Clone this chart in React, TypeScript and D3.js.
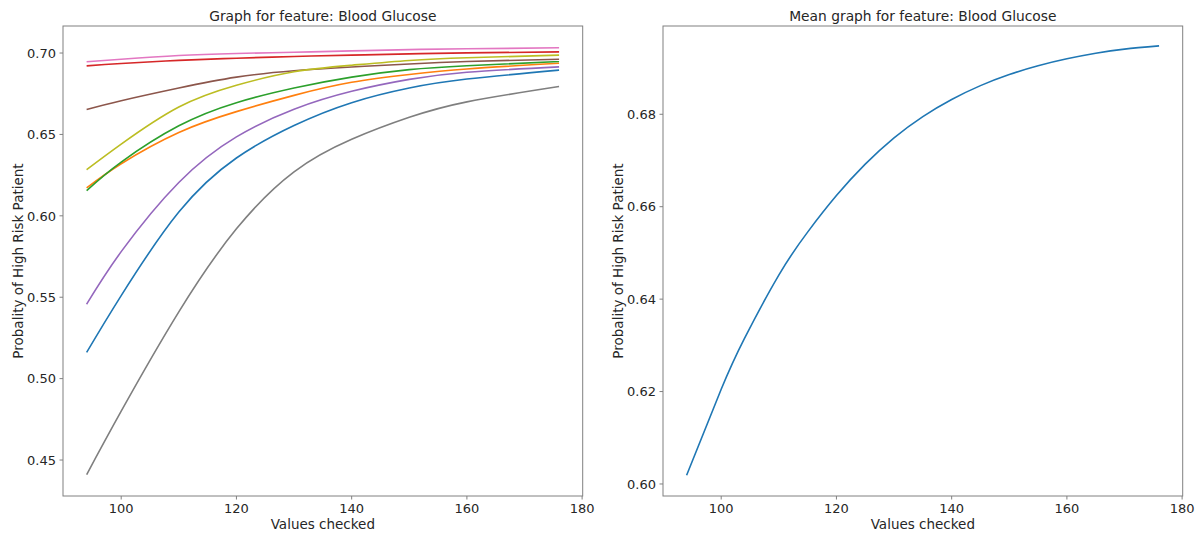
import React from "react";
import * as d3 from "d3";

// ---- data ----
const xChecked = [94, 100, 110, 120, 130, 140, 150, 160, 176];

const seriesBlue = [0.5161, 0.551, 0.6023, 0.6355, 0.6555, 0.6695, 0.6785, 0.684, 0.6895];
const seriesOrange = [0.6171, 0.632, 0.6512, 0.664, 0.674, 0.682, 0.6868, 0.6902, 0.6937];
const seriesGreen = [0.6155, 0.633, 0.6553, 0.6695, 0.6785, 0.6852, 0.6898, 0.6922, 0.6948];
const seriesRed = [0.6921, 0.6936, 0.6955, 0.6968, 0.6979, 0.6987, 0.6995, 0.7001, 0.7007];
const seriesPurple = [0.5457, 0.578, 0.6205, 0.6485, 0.6655, 0.6765, 0.6838, 0.6882, 0.6915];
const seriesBrown = [0.6653, 0.6707, 0.6785, 0.6852, 0.6891, 0.6914, 0.6933, 0.6948, 0.6962];
const seriesPink = [0.6946, 0.6962, 0.6985, 0.6997, 0.7005, 0.7013, 0.7021, 0.7026, 0.7032];
const seriesGray = [0.441, 0.48, 0.541, 0.592, 0.627, 0.647, 0.6605, 0.67, 0.6794];
const seriesOlive = [0.6283, 0.644, 0.6668, 0.6802, 0.6885, 0.6925, 0.6954, 0.6971, 0.6987];

const allSeries = [
  { values: seriesBlue, color: "#1f77b4" },
  { values: seriesOrange, color: "#ff7f0e" },
  { values: seriesGreen, color: "#2ca02c" },
  { values: seriesRed, color: "#d62728" },
  { values: seriesPurple, color: "#9467bd" },
  { values: seriesBrown, color: "#8c564b" },
  { values: seriesPink, color: "#e377c2" },
  { values: seriesGray, color: "#7f7f7f" },
  { values: seriesOlive, color: "#bcbd22" },
];

const meanX = [94, 100, 104, 110, 115, 120, 125, 130, 135, 140, 145, 150, 155, 160, 165, 170, 176];
const meanY = [0.6019, 0.6205, 0.6314, 0.6452, 0.6545, 0.6624, 0.6692, 0.6749, 0.6795, 0.6832, 0.6862, 0.6886, 0.6905, 0.692, 0.6932, 0.6941, 0.6948];

const xTicks = [100, 120, 140, 160, 180];
const leftYTicks = [0.45, 0.5, 0.55, 0.6, 0.65, 0.7];
const rightYTicks = [0.6, 0.62, 0.64, 0.66, 0.68];

const leftTitle = "Graph for feature: Blood Glucose";
const rightTitle = "Mean graph for feature: Blood Glucose";
const xLabel = "Values checked";
const yLabel = "Probality of High Risk Patient";

// ---- layout ----
const W = 1200;
const H = 536;
const TOP = 26;
const BOTTOM = 496;
const FONT = "DejaVu Sans, sans-serif";
const SPINE = "#808080";
const TEXT = "#262626";

function Panel({ left, right, xDomain, yDomain, yTicks, title, lines }: any) {
  const x = d3.scaleLinear().domain(xDomain).range([left, right]);
  const y = d3.scaleLinear().domain(yDomain).range([BOTTOM, TOP]);
  const line = d3
    .line<[number, number]>()
    .x((d) => x(d[0]))
    .y((d) => y(d[1]))
    .curve(d3.curveNatural);
  const cx = (left + right) / 2;
  const fmt = d3.format(".2f");
  return (
    <g>
      {lines.map((l: any, i: number) => (
        <path
          key={i}
          d={line(l.xs.map((v: number, j: number) => [v, l.ys[j]])) || ""}
          fill="none"
          stroke={l.color}
          strokeWidth={1.6}
        />
      ))}
      <rect x={left} y={TOP} width={right - left} height={BOTTOM - TOP} fill="none" stroke={SPINE} strokeWidth={1} />
      {xTicks.map((t) => (
        <g key={t}>
          <line x1={x(t)} x2={x(t)} y1={BOTTOM} y2={BOTTOM + 3.5} stroke={SPINE} />
          <text x={x(t)} y={BOTTOM + 17} textAnchor="middle" fontSize={13} fill={TEXT} fontFamily={FONT}>
            {t}
          </text>
        </g>
      ))}
      {yTicks.map((t: number) => (
        <g key={t}>
          <line x1={left - 3.5} x2={left} y1={y(t)} y2={y(t)} stroke={SPINE} />
          <text x={left - 7} y={y(t)} dy="0.36em" textAnchor="end" fontSize={13} fill={TEXT} fontFamily={FONT}>
            {fmt(t)}
          </text>
        </g>
      ))}
      <text x={cx} y={21} textAnchor="middle" fontSize={13.8} fill={TEXT} fontFamily={FONT}>
        {title}
      </text>
      <text x={cx} y={529} textAnchor="middle" fontSize={13.5} fill={TEXT} fontFamily={FONT}>
        {xLabel}
      </text>
      <text
        transform={`translate(${left - 40},${(TOP + BOTTOM) / 2}) rotate(-90)`}
        textAnchor="middle"
        fontSize={13.5}
        fill={TEXT}
        fontFamily={FONT}
      >
        {yLabel}
      </text>
    </g>
  );
}

export default function App() {
  const leftLines = allSeries.map((s) => ({ xs: xChecked, ys: s.values, color: s.color }));
  const rightLines = [{ xs: meanX, ys: meanY, color: "#1f77b4" }];
  return (
    <svg
      width={W}
      height={H}
      style={{ position: "absolute", left: 0, top: 0, background: "#fff" }}
    >
      <rect width={W} height={H} fill="#fff" />
      <Panel
        left={63}
        right={582.7}
        xDomain={[89.9, 180.1]}
        yDomain={[0.4279, 0.7166]}
        yTicks={leftYTicks}
        title={leftTitle}
        lines={leftLines}
      />
      <Panel
        left={663}
        right={1182.7}
        xDomain={[89.9, 180.1]}
        yDomain={[0.5974, 0.6991]}
        yTicks={rightYTicks}
        title={rightTitle}
        lines={rightLines}
      />
    </svg>
  );
}
